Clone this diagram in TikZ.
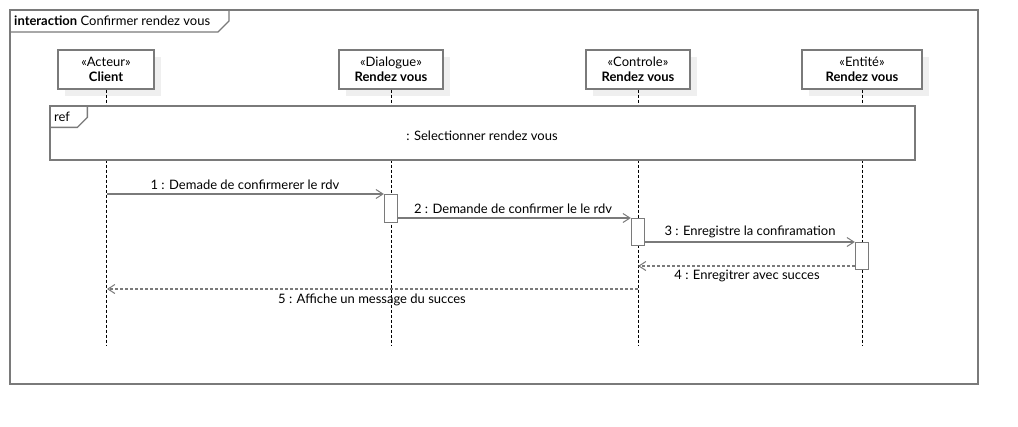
\documentclass[tikz,border=0pt]{standalone}
\usepackage{fontspec}
\setmainfont{Lato}
\usetikzlibrary{arrows.meta,shadows}
\definecolor{lc}{HTML}{7A7A7A}
\definecolor{shc}{HTML}{EFEFEF}
\begin{document}
\begin{tikzpicture}[x=1pt,y=-1pt,
  font=\fontsize{13}{15}\selectfont,
  frameline/.style={draw=lc, line width=1.3pt},
  head/.style={draw=lc, line width=1.3pt, fill=white, align=center, inner sep=0pt,
    minimum height=39, general shadow={fill=shc, shadow xshift=7pt, shadow yshift=-7pt}},
  life/.style={draw=black, line width=0.6pt, dash pattern=on 3pt off 2pt},
  act/.style={draw=lc, line width=1.3pt, fill=white, minimum width=13, inner sep=0pt},
  msg/.style={draw=lc, line width=1.2pt, -{Straight Barb[length=7pt,width=9pt,line width=1pt]}},
  ret/.style={draw=lc, line width=1.2pt, dash pattern=on 3pt off 2pt, -{Straight Barb[length=7pt,width=9pt,line width=1pt]}},
  lbl/.style={inner sep=0pt, text=black}
]
\useasboundingbox (0,0) rectangle (1018,426);
% outer frame
\draw[frameline] (10,10) rectangle (978,384);
\draw[frameline] (10,32) -- (218,32) -- (229,21) -- (229,10);
\node[lbl, anchor=west] (title) at (14,21) {\textbf{interaction}\ Confirmer rendez vous};
% heads
\node[head, minimum width=96] (h1) at (106,69.5) {«Acteur»\\\textbf{Client}};
\node[head, minimum width=104] (h2) at (391,69.5) {«Dialogue»\\\textbf{Rendez vous}};
\node[head, minimum width=104] (h3) at (638,69.5) {«Controle»\\\textbf{Rendez vous}};
\node[head, minimum width=120] (h4) at (862,69.5) {«Entité»\\\textbf{Rendez vous}};
% lifeline ends
\path (h1.south) ++(0,256) coordinate (e1);
\path (h2.south) ++(0,256) coordinate (e2);
\path (h3.south) ++(0,256) coordinate (e3);
\path (h4.south) ++(0,256) coordinate (e4);
\draw[life] (h1.south) -- (e1);
\draw[life] (h2.south) -- (e2);
\draw[life] (h3.south) -- (e3);
\draw[life] (h4.south) -- (e4);
% ref fragment
\node[draw=lc, line width=1.3pt, fill=white, minimum width=865, minimum height=54, inner sep=0pt] (ref) at (482.5,133) {};
\draw[frameline] (ref.north west) ++(0,22) -- ++(28,0) -- ++(10,-10) -- ++(0,-12);
\node[lbl, anchor=west] (reflbl) at (54,117) {ref};
\node[lbl] (refname) at (482,136) {: Selectionner rendez vous};
% activations
\node[act, minimum height=28, anchor=north] (a2) at (391,194) {};
\node[act, minimum height=27, anchor=north] (a3) at (638,218) {};
\node[act, minimum height=27, anchor=north] (a4) at (862,242) {};
% messages
\coordinate (m1) at (107,194);
\draw[msg] (m1) -- (a2.north west);
\node[lbl] (l1) at (245,185) {1 : Demade de confirmerer le rdv};
\draw[msg] (a2.east |- a3.north) -- (a3.north west);
\node[lbl] (l2) at (513,209) {2 : Demande de confirmer le le rdv};
\draw[msg] (a3.east |- a4.north) -- (a4.north west);
\node[lbl] (l3) at (750,232) {3 : Enregistre la confiramation};
\coordinate (m4) at (638,266);
\draw[ret] (a4.west |- m4) -- (m4);
\node[lbl] (l4) at (747,276) {4 : Enregitrer avec succes};
\coordinate (m5s) at (638,289);
\coordinate (m5e) at (107,289);
\draw[ret] (m5s) -- (m5e);
\node[lbl] (l5) at (372,300) {5 : Affiche un message du succes};
\end{tikzpicture}
\end{document}
